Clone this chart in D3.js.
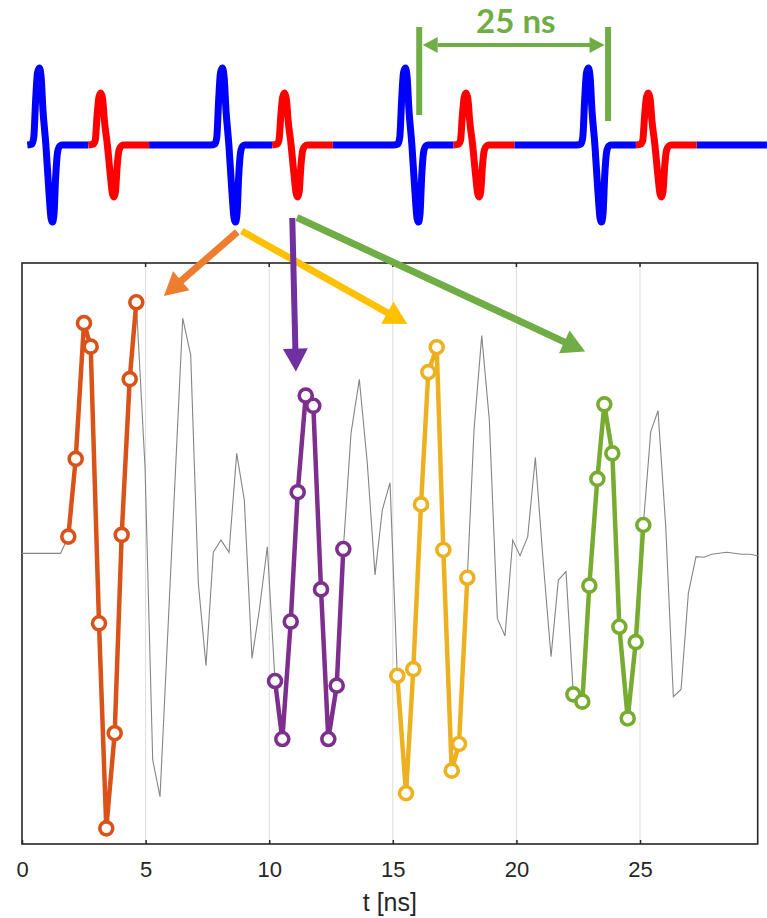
<!DOCTYPE html>
<html>
<head>
<meta charset="utf-8">
<script src="https://cdn.jsdelivr.net/npm/d3@7"></script>
<style>
body{margin:0;background:#fff;}
svg{display:block;}
</style>
</head>
<body>
<svg id="chart" width="767" height="918"></svg>
<script>
// ---- data ----
const xTicks = [0, 5, 10, 15, 20, 25];

// sampled waveform, [t ns, amplitude]
const leadIn = [[0, 0.002], [1.56, 0.002]];
const orangeSamples = [[1.873, 0.060], [2.172, 0.328], [2.508, 0.796], [2.779, 0.715], [3.115, -0.239],
  [3.410, -0.946], [3.750, -0.618], [4.033, 0.066], [4.357, 0.603], [4.624, 0.868]];
const gap1 = [[4.976, 0.301], [5.287, -0.710], [5.583, -0.837], [6.501, 0.813], [6.824, 0.686],
  [7.132, -0.101], [7.443, -0.385], [7.739, 0.006], [8.050, 0.048], [8.374, 0.006], [8.685, 0.347],
  [8.993, 0.186], [9.304, -0.360], [9.600, -0.193], [9.923, 0.025]];
const purpleSamples = [[10.235, -0.438], [10.530, -0.638], [10.870, -0.233], [11.153, 0.213], [11.477, 0.546],
  [11.784, 0.511], [12.096, -0.122], [12.391, -0.638], [12.731, -0.454], [12.998, 0.017]];
const gap2 = [[13.309, 0.416], [13.645, 0.602], [13.968, 0.313], [14.280, -0.072], [14.575, 0.152], [14.887, 0.246]];
const yellowSamples = [[15.182, -0.420], [15.534, -0.825], [15.829, -0.397], [16.141, 0.171], [16.436, 0.627],
  [16.776, 0.713], [17.043, 0.014], [17.383, -0.747], [17.678, -0.655], [18.014, -0.082]];
const gap3 = [[18.285, 0.428], [18.597, 0.753], [18.904, 0.462], [19.228, -0.222], [19.539, -0.283],
  [19.851, 0.048], [20.146, -0.006], [20.457, 0.060], [20.765, 0.333], [21.088, -0.032], [21.400, -0.354],
  [21.695, -0.090], [22.006, -0.061]];
const greenSamples = [[22.302, -0.484], [22.666, -0.509], [22.949, -0.109], [23.273, 0.259], [23.556, 0.516],
  [23.880, 0.347], [24.163, -0.251], [24.502, -0.567], [24.826, -0.304], [25.133, 0.100]];
const tail = [[25.433, 0.422], [25.728, 0.494], [26.040, 0.094], [26.347, -0.492], [26.659, -0.467],
  [26.954, -0.136], [27.265, -0.009], [27.589, -0.011], [27.900, -0.001], [28.507, 0.006],
  [29.114, -0.001], [29.450, -0.001], [29.761, -0.006]];

// pulse train sketch (time in ns, amplitude in arbitrary units), relative to each pulse peak
const bluePulse = [[-1.64, 0], [-1.0, 1], [-0.75, 8], [-0.5, 45], [-0.25, 72], [0, 77], [0.25, 68], [0.5, 35],
  [0.9, 0], [1.3, -45], [1.6, -73], [1.8, -77], [2.0, -70], [2.25, -30], [2.5, -7], [2.8, -1], [3.1, 0]];
const redPulse = [[-1.7, 0], [-1.0, 1], [-0.75, 5], [-0.5, 30], [-0.25, 48], [0, 52], [0.25, 46], [0.5, 24],
  [0.9, 0], [1.3, -30], [1.6, -49], [1.8, -52], [2.0, -47], [2.25, -20], [2.5, -5], [2.8, -1], [3.1, 0], [6.6, 0]];
const bluePeaks = [0, 25, 50, 75];
const redPeaks = [8.4, 33.5, 58.3, 83.2];
const trainEnd = 99.4;
const periodMarks = [51.9, 77.7];

// arrows: from the sketch (t, amp) into the chart (t ns, amplitude)
const arrows = [
  {from: [27.05, -87], to: [5.74, 0.89], color: "#ED7D31", w: 7},
  {from: [27.65, -86], to: [15.59, 0.793], color: "#FFC000", w: 7},
  {from: [34.56, -73], to: [11.08, 0.629], color: "#7030A0", w: 6},
  {from: [35.2, -72.5], to: [22.78, 0.698], color: "#70AD47", w: 7}
];

// ---- chart ----
const svg = d3.select("#chart");
const x = d3.scaleLinear().domain([0, 29.76]).range([22, 757.7]);
const y = d3.scaleLinear().domain([-1, 1]).range([844, 264]);
const box = {l: 22, r: 757.7, t: 263, b: 844};

const xs = d3.scaleLinear().domain([0, 75]).range([39.3, 588.3]);
const ys = d3.scaleLinear().domain([-100, 100]).range([245, 45]);

// grid
svg.append("g").selectAll("line").data(xTicks.slice(1)).join("line")
  .attr("x1", d => x(d)).attr("x2", d => x(d))
  .attr("y1", box.t).attr("y2", box.b)
  .attr("stroke", "#dcdcdc").attr("stroke-width", 1);

// bottom axis
const xAxis = svg.append("g").attr("transform", "translate(0," + box.b + ")")
  .call(d3.axisBottom(x).tickValues(xTicks).tickSizeInner(-4).tickSizeOuter(0).tickPadding(17));
xAxis.select(".domain").remove();
xAxis.selectAll(".tick line").attr("stroke", "#262626").attr("stroke-width", 1.5);
xAxis.selectAll(".tick text").attr("fill", "#262626")
  .style("font-family", "'Liberation Sans', Arial, sans-serif").style("font-size", "22px");

// top ticks
svg.append("g").selectAll("line").data(xTicks.slice(1)).join("line")
  .attr("x1", d => x(d)).attr("x2", d => x(d))
  .attr("y1", box.t).attr("y2", box.t + 4)
  .attr("stroke", "#262626").attr("stroke-width", 1.5);

svg.append("rect").attr("x", box.l).attr("y", box.t)
  .attr("width", box.r - box.l).attr("height", box.b - box.t)
  .attr("fill", "none").attr("stroke", "#262626").attr("stroke-width", 1.6);

svg.append("text").attr("x", (box.l + box.r) / 2).attr("y", 911)
  .attr("text-anchor", "middle").attr("fill", "#262626")
  .style("font-family", "'Liberation Sans', Arial, sans-serif").style("font-size", "25px")
  .text("t [ns]");

// full trace
const trace = [].concat(leadIn, orangeSamples, gap1, purpleSamples, gap2, yellowSamples, gap3, greenSamples, tail);
const line = d3.line().x(d => x(d[0])).y(d => y(d[1]));
svg.append("path").datum(trace).attr("d", line)
  .attr("fill", "none").attr("stroke", "#858585").attr("stroke-width", 1.1);

const series = [
  {data: orangeSamples, color: "#D95319"},
  {data: purpleSamples, color: "#7E2F8E"},
  {data: yellowSamples, color: "#EDB120"},
  {data: greenSamples, color: "#77AC30"}
];
series.forEach(s => {
  svg.append("path").datum(s.data).attr("d", line)
    .attr("fill", "none").attr("stroke", s.color).attr("stroke-width", 4.5)
    .attr("stroke-linejoin", "round");
});
series.forEach(s => {
  svg.append("g").selectAll("circle").data(s.data).join("circle")
    .attr("cx", d => x(d[0])).attr("cy", d => y(d[1])).attr("r", 6.5)
    .attr("fill", "#fff").attr("stroke", s.color).attr("stroke-width", 3.6);
});

// ---- pulse train sketch ----
const sLine = d3.line().x(d => xs(d[0])).y(d => ys(d[1])).curve(d3.curveMonotoneX);
const blueSegs = bluePeaks.map((p, k) => {
  const pts = [];
  if (k > 0) pts.push([redPeaks[k - 1] + 6.6, 0]);
  bluePulse.forEach(d => pts.push([p + d[0], d[1]]));
  pts.push([redPeaks[k] - 1.7, 0]);
  return pts;
});
blueSegs.push([[redPeaks[3] + 6.6, 0], [trainEnd, 0]]);
const redSegs = redPeaks.map(p => redPulse.map(d => [p + d[0], d[1]]));

svg.append("g").selectAll("path").data(blueSegs).join("path")
  .attr("d", sLine).attr("fill", "none").attr("stroke", "#0000FF")
  .attr("stroke-width", 7).attr("stroke-linejoin", "round");
svg.append("g").selectAll("path").data(redSegs).join("path")
  .attr("d", sLine).attr("fill", "none").attr("stroke", "#FF0000")
  .attr("stroke-width", 7).attr("stroke-linejoin", "round");

// 25 ns marker
const green = "#70AD47";
svg.append("line").attr("x1", xs(periodMarks[0])).attr("x2", xs(periodMarks[0]))
  .attr("y1", ys(118)).attr("y2", ys(30)).attr("stroke", green).attr("stroke-width", 6);
svg.append("line").attr("x1", xs(periodMarks[1])).attr("x2", xs(periodMarks[1]))
  .attr("y1", ys(118)).attr("y2", ys(24)).attr("stroke", green).attr("stroke-width", 6);

function arrowHead(g, tipX, tipY, ux, uy, len, wid, color) {
  const bx = tipX - ux * len, by = tipY - uy * len;
  const px = -uy * wid / 2, py = ux * wid / 2;
  g.append("polygon")
    .attr("points", [[tipX, tipY], [bx + px, by + py], [bx - px, by - py]].map(p => p.join(",")).join(" "))
    .attr("fill", color);
  return [bx, by];
}
function drawArrow(x1, y1, x2, y2, color, w, len, wid, twoSided) {
  const g = svg.append("g");
  const L = Math.hypot(x2 - x1, y2 - y1), ux = (x2 - x1) / L, uy = (y2 - y1) / L;
  const b2 = arrowHead(g, x2, y2, ux, uy, len, wid, color);
  let b1 = [x1, y1];
  if (twoSided) b1 = arrowHead(g, x1, y1, -ux, -uy, len, wid, color);
  g.append("line").attr("x1", b1[0]).attr("y1", b1[1]).attr("x2", b2[0] + ux).attr("y2", b2[1] + uy)
    .attr("stroke", color).attr("stroke-width", w);
}
drawArrow(xs(periodMarks[0]) + 3.5, ys(100), xs(periodMarks[1]) - 3.5, ys(100), green, 4, 15, 16, true);
svg.append("text").attr("x", xs(65.1)).attr("y", 33)
  .attr("text-anchor", "middle").attr("fill", green)
  .style("font-family", "Lato, 'Open Sans', sans-serif").style("font-weight", "bold").style("font-size", "33px")
  .text("25 ns");

arrows.forEach(a => {
  drawArrow(xs(a.from[0]), ys(a.from[1]), x(a.to[0]), y(a.to[1]), a.color, a.w, 23, 25, false);
});
</script>
</body>
</html>
